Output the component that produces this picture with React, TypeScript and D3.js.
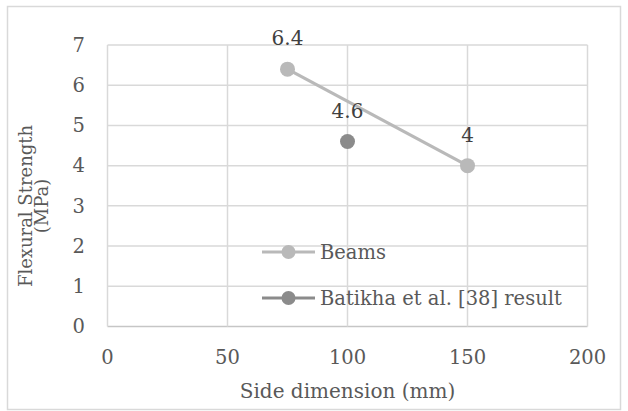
import * as d3 from 'd3';

const beamsX = [75, 150];
const beamsY = [6.4, 4];
const batikhaX = [100];
const batikhaY = [4.6];
const xTicks = [0, 50, 100, 150, 200];
const yTicks = [0, 1, 2, 3, 4, 5, 6, 7];
const legendNames = ['Beams', 'Batikha et al. [38] result'];

const W = 628;
const H = 411;
const font = '"DejaVu Serif", serif';

const App = () => {
  const x = d3.scaleLinear().domain([0, 200]).range([107.5, 587.5]);
  const y = d3.scaleLinear().domain([0, 7]).range([326.5, 45]);

  const beamPts: [number, number][] = beamsX.map((v, i) => [x(v), y(beamsY[i])]);
  const line = d3.line();

  const beamColor = '#b9b9b9';
  const batColor = '#8b8b8b';

  const legendRows = [
    { name: legendNames[0], color: beamColor, y: 252 },
    { name: legendNames[1], color: batColor, y: 298 },
  ];

  return (
    <svg width={W} height={H} style={{ position: 'absolute', left: 0, top: 0 }} fontFamily={font}>
      <rect x={0} y={0} width={W} height={H} fill="#fff" />
      <rect x={7.5} y={6.5} width={613} height={403} fill="none" stroke="#d9d9d9" strokeWidth={1.5} />

      {/* grid */}
      {yTicks.map((t) => (
        <line key={'gy' + t} x1={x(0)} x2={x(200)} y1={y(t)} y2={y(t)} stroke={t === 0 ? '#c6c6c6' : '#d9d9d9'} strokeWidth={1.5} />
      ))}
      {xTicks.map((t) => (
        <line key={'gx' + t} x1={x(t)} x2={x(t)} y1={y(0)} y2={y(7)} stroke="#d9d9d9" strokeWidth={1.5} />
      ))}

      {/* tick labels */}
      {yTicks.map((t) => (
        <text key={'ly' + t} x={85} y={y(t)} dy="0.35em" textAnchor="end" fontSize={19.5} fill="#595959">
          {t}
        </text>
      ))}
      {xTicks.map((t) => (
        <text key={'lx' + t} x={x(t)} y={357} dy="0.35em" textAnchor="middle" fontSize={19.5} fill="#595959">
          {t}
        </text>
      ))}

      {/* axis titles */}
      <text x={(x(0) + x(200)) / 2} y={398} textAnchor="middle" fontSize={20} fill="#595959">
        Side dimension (mm)
      </text>
      <g transform="translate(0,206) rotate(-90)" fontSize={18} fill="#595959" textAnchor="middle">
        <text x={0} y={32}>Flexural Strength</text>
        <text x={0} y={48}>(MPa)</text>
      </g>

      {/* series */}
      <path d={line(beamPts) || ''} fill="none" stroke={beamColor} strokeWidth={3.2} />
      {beamPts.map((p, i) => (
        <circle key={'b' + i} cx={p[0]} cy={p[1]} r={7.5} fill={beamColor} />
      ))}
      {batikhaX.map((v, i) => (
        <circle key={'k' + i} cx={x(v)} cy={y(batikhaY[i])} r={7.5} fill={batColor} />
      ))}

      {/* data labels */}
      {beamsX.map((v, i) => (
        <text key={'db' + i} x={x(v)} y={y(beamsY[i]) - 24} textAnchor="middle" fontSize={20} fill="#404040">
          {beamsY[i]}
        </text>
      ))}
      {batikhaX.map((v, i) => (
        <text key={'dk' + i} x={x(v)} y={y(batikhaY[i]) - 24} textAnchor="middle" fontSize={20} fill="#404040">
          {batikhaY[i]}
        </text>
      ))}

      {/* legend */}
      {legendRows.map((r) => (
        <g key={r.name}>
          <line x1={262} x2={315} y1={r.y} y2={r.y} stroke={r.color} strokeWidth={3.2} />
          <circle cx={288.5} cy={r.y} r={7} fill={r.color} />
          <text x={320} y={r.y} dy="0.35em" fontSize={19.5} fill="#595959">
            {r.name}
          </text>
        </g>
      ))}
    </svg>
  );
};

export default App;
